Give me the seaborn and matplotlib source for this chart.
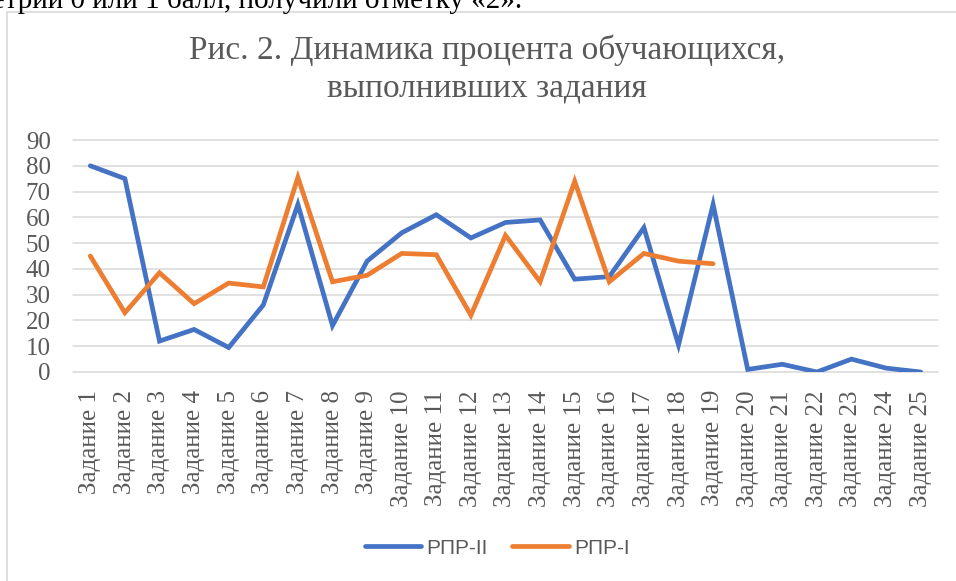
import seaborn as sns
import pandas as pd
import matplotlib.pyplot as plt
from matplotlib.patches import Rectangle


TASKS = ["Задание " + str(i) for i in range(1, 26)]
RPR_II = [80, 75, 12, 16.5, 9.5, 26, 65, 18, 43, 54, 61, 52, 58, 59,
          36, 37, 56, 10.5, 65, 1, 3, 0, 5, 1.5, 0]
RPR_I = [45, 23, 38.5, 26.5, 34.5, 33, 75.5, 35, 37.5, 46, 45.5, 22, 53,
         35, 74, 35, 46, 43, 42]
SERIES = ["РПР-II", "РПР-I"]
COLORS = ["#4472C4", "#ED7D31"]
TITLE = "Рис. 2. Динамика процента обучающихся,\nвыполнивших задания"
TOP_LINE = "геометрии 0 или 1 балл, получили отметку «2»."
GRAY = "#595959"


def build_frame():
    """
    Puts both series into one long table for seaborn.
    """
    rows = []
    for name, values in zip(SERIES, [RPR_II, RPR_I]):
        for task, value in zip(TASKS, values):
            rows.append({"task": task, "value": value, "series": name})
    return pd.DataFrame(rows)


def main():
    sns.set_style("white")
    plt.rcParams["font.family"] = ["Liberation Serif", "DejaVu Serif"]

    fig = plt.figure(figsize=(9.56, 5.81), dpi=100)
    W, H = 956, 581
    ax = fig.add_axes([73 / W, 1 - 372 / H, 865 / W, 232 / H])

    data = build_frame()
    sns.lineplot(data=data, x="task", y="value", hue="series",
                 palette=COLORS, sort=False, linewidth=3.4, ax=ax,
                 solid_capstyle="round", solid_joinstyle="miter")

    ax.set_xlim(-0.5, len(TASKS) - 0.5)
    ax.set_ylim(0, 90)
    ax.set_yticks(range(0, 91, 10))
    ax.set_xlabel("")
    ax.set_ylabel("")
    for side in ax.spines:
        ax.spines[side].set_visible(False)
    ax.grid(axis="y", color="#D9D9D9", linewidth=1.1)
    ax.grid(axis="x", visible=False)
    for line in ax.get_ygridlines():
        line.set_clip_on(False)
    ax.set_axisbelow(True)
    ax.tick_params(axis="y", length=0, pad=16, labelsize=18,
                   labelcolor=GRAY)
    ax.tick_params(axis="x", length=0, pad=13, labelsize=18,
                   labelcolor=GRAY, labelrotation=90)

    handles, labels = ax.get_legend_handles_labels()
    ax.legend(handles, labels, loc="center",
              bbox_to_anchor=(497 / W, 1 - 548 / H),
              bbox_transform=fig.transFigure, ncol=2, frameon=False,
              handlelength=2.7, handletextpad=0.25, columnspacing=1.2,
              prop={"family": "Liberation Sans", "size": 15},
              labelcolor=GRAY)

    fig.text(487 / W, 1 - 50 / H, TITLE.split("\n")[0], ha="center",
             va="center", fontsize=24, color=GRAY)
    fig.text(487 / W, 1 - 88 / H, TITLE.split("\n")[1], ha="center",
             va="center", fontsize=24, color=GRAY)

    fig.patches.append(Rectangle((7 / W, -0.05), 1.0, 1 - 12 / H + 0.05,
                                 transform=fig.transFigure, fill=False,
                                 edgecolor="#D9D9D9", linewidth=1.2))
    fig.text(522 / W, 1 - 8 / H, TOP_LINE, ha="right", va="baseline",
             fontsize=21, color="black")

    plt.savefig("out.png", dpi=100)


if __name__ == '__main__':
    main()
